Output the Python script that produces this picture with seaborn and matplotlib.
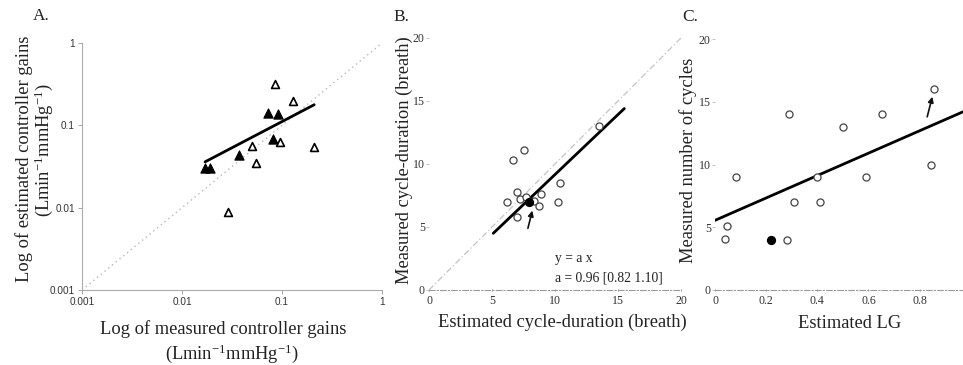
import numpy as np
import pandas as pd
import matplotlib
matplotlib.use("Agg")
import matplotlib.pyplot as plt
import seaborn as sns
from matplotlib.ticker import FixedLocator, FixedFormatter, NullLocator

# ---------------- data ----------------
# Panel A (log-log)
a_open_x = [0.085, 0.129, 0.050, 0.095, 0.21, 0.055, 0.029]
a_open_y = [0.32, 0.20, 0.056, 0.063, 0.054, 0.035, 0.0089]
a_fill_x = [0.073, 0.091, 0.081, 0.037, 0.017, 0.019]
a_fill_y = [0.14, 0.138, 0.068, 0.044, 0.030, 0.030]
a_fit_x = [0.017, 0.21]
a_fit_y = [0.036, 0.178]
a_identity = [0.001, 1.0]
a_ticks = [0.001, 0.01, 0.1, 1]
a_tick_labels = ["0.001", "0.01", "0.1", "1"]

# Panel B
b_open_x = [13.5, 7.5, 6.7, 10.4, 7.0, 6.2, 7.2, 7.7, 8.9, 8.3, 8.7, 10.2, 7.0]
b_open_y = [13.0, 11.1, 10.3, 8.5, 7.8, 7.0, 7.2, 7.4, 7.6, 7.1, 6.7, 7.0, 5.8]
b_fill_x = [7.9]
b_fill_y = [7.0]
b_fit_x = [5.1, 15.5]
b_fit_y = [4.5, 14.4]
b_identity = [0, 20]
b_arrow = [(7.85, 4.9), (8.2, 6.3)]
b_ticks = [0, 5, 10, 15, 20]
b_tick_labels = ["0", "5", "10", "15", "20"]

# Panel C
c_open_x = [0.855, 0.29, 0.655, 0.50, 0.845, 0.082, 0.40, 0.59, 0.31, 0.41, 0.047, 0.04, 0.28]
c_open_y = [16, 14, 14, 13, 10, 9, 9, 9, 7, 7, 5.1, 4.05, 4.0]
c_fill_x = [0.22]
c_fill_y = [4.0]
c_fit_x = [0.0, 0.97]
c_fit_y = [5.55, 14.2]
c_arrow = [(0.83, 13.8), (0.85, 15.4)]
c_xticks = [0, 0.2, 0.4, 0.6, 0.8, 1.0]
c_xtick_labels = ["0", "0.2", "0.4", "0.6", "0.8", "1"]
c_yticks = [0, 5, 10, 15, 20]
c_ytick_labels = ["0", "5", "10", "15", "20"]

# ---------------- style ----------------
sns.set_style("white")
plt.rcParams["font.family"] = ["Liberation Serif", "DejaVu Serif"]
plt.rcParams["mathtext.fontset"] = "custom"
plt.rcParams["mathtext.rm"] = "Liberation Serif"
plt.rcParams["mathtext.it"] = "Liberation Serif:italic"

W, H = 963, 365
fig = plt.figure(figsize=(W / 100, H / 100), dpi=100)


def axes_px(left, top, right, bottom):
    return fig.add_axes([left / W, 1 - bottom / H, (right - left) / W, (bottom - top) / H])


def ftext(x, y, s, **kw):
    fig.text(x / W, 1 - y / H, s, **kw)


LABEL_FS = 13.3
SERIF = ["Liberation Serif", "DejaVu Serif"]
SANS = ["Liberation Sans", "DejaVu Sans"]
UNIT = r"(Lmin$^{\mathregular{-1}}$mmHg$^{\mathregular{-1}}$)"

# ---------------- Panel A ----------------
axA = axes_px(82, 43, 382, 290)
axA.set_xscale("log")
axA.set_yscale("log")
sns.lineplot(x=a_identity, y=a_identity, ax=axA, color="#b8b8b8", lw=1.0,
             linestyle=(0, (1, 2.5)), legend=False)
sns.lineplot(x=a_fit_x, y=a_fit_y, ax=axA, color="black", lw=2.0, legend=False)
sns.scatterplot(x=a_open_x, y=a_open_y, ax=axA, marker="^", s=32, color="white",
                edgecolor="black", linewidth=1.2, zorder=3)
sns.scatterplot(x=a_fill_x, y=a_fill_y, ax=axA, marker="^", s=44, color="black",
                edgecolor="black", linewidth=0.8, zorder=3)
axA.set_xlim(0.001, 1)
axA.set_ylim(0.001, 1)
for axis in (axA.xaxis, axA.yaxis):
    axis.set_major_locator(FixedLocator(a_ticks))
    axis.set_major_formatter(FixedFormatter(a_tick_labels))
    axis.set_minor_locator(NullLocator())
axA.tick_params(axis="both", length=3, width=0.6, color="#999999", labelsize=7.2,
                labelcolor="#333333", pad=2, direction="out", bottom=True, left=True)
for lab in axA.get_xticklabels() + axA.get_yticklabels():
    lab.set_family(SANS)
for side in ("top", "right"):
    axA.spines[side].set_visible(False)
for side in ("left", "bottom"):
    axA.spines[side].set_color("#aaaaaa")
    axA.spines[side].set_linewidth(0.8)
axA.set_xlabel("")
axA.set_ylabel("")

ftext(223, 329, "Log of measured controller gains", ha="center", va="center",
      fontsize=LABEL_FS, family=SERIF, color="#222222")
ftext(232, 354, UNIT, ha="center", va="center",
      fontsize=LABEL_FS, family=SERIF, color="#222222")
ftext(24, 159, "Log of estimated controller gains", ha="center", va="center",
      rotation=90, fontsize=LABEL_FS, family=SERIF, color="#222222")
ftext(44, 150, UNIT, ha="center", va="center",
      rotation=90, fontsize=LABEL_FS, family=SERIF, color="#222222")
ftext(33, 16, "A.", ha="left", va="center", fontsize=12.5, family=SERIF, color="#222222")

# ---------------- Panel B ----------------
axB = axes_px(429, 38, 681, 290)
sns.lineplot(x=b_identity, y=b_identity, ax=axB, color="#c4c4c4", lw=0.9,
             linestyle=(0, (5, 2, 1, 2)), legend=False)
sns.lineplot(x=b_fit_x, y=b_fit_y, ax=axB, color="black", lw=2.0, legend=False)
sns.scatterplot(x=b_open_x, y=b_open_y, ax=axB, marker="o", s=26, color="white",
                edgecolor="#444444", linewidth=0.9, zorder=3)
sns.scatterplot(x=b_fill_x, y=b_fill_y, ax=axB, marker="o", s=34, color="black",
                edgecolor="black", linewidth=0.8, zorder=4)
axB.annotate("", xy=b_arrow[1], xytext=b_arrow[0],
             arrowprops=dict(arrowstyle="-|>", color="#111111", lw=1.2, mutation_scale=8,
                             shrinkA=0, shrinkB=0))
axB.text(10.0, 2.5, "y = a x", ha="left", va="center", fontsize=9.8, color="#222222")
axB.text(10.0, 0.95, "a = 0.96 [0.82 1.10]", ha="left", va="center", fontsize=9.8,
         color="#222222")
axB.set_xlim(0, 20)
axB.set_ylim(0, 20)
axB.xaxis.set_major_locator(FixedLocator(b_ticks))
axB.xaxis.set_major_formatter(FixedFormatter(b_tick_labels))
axB.yaxis.set_major_locator(FixedLocator(b_ticks))
axB.yaxis.set_major_formatter(FixedFormatter(b_tick_labels))

# ---------------- Panel C ----------------
axC = axes_px(715, 39, 963, 290)
sns.lineplot(x=c_fit_x, y=c_fit_y, ax=axC, color="black", lw=2.0, legend=False)
sns.scatterplot(x=c_open_x, y=c_open_y, ax=axC, marker="o", s=26, color="white",
                edgecolor="#444444", linewidth=0.9, zorder=3)
sns.scatterplot(x=c_fill_x, y=c_fill_y, ax=axC, marker="o", s=34, color="black",
                edgecolor="black", linewidth=0.8, zorder=4)
axC.annotate("", xy=c_arrow[1], xytext=c_arrow[0],
             arrowprops=dict(arrowstyle="-|>", color="#111111", lw=1.2, mutation_scale=8,
                             shrinkA=0, shrinkB=0))
axC.set_xlim(0, 0.97)
axC.set_ylim(0, 20)
axC.xaxis.set_major_locator(FixedLocator(c_xticks))
axC.xaxis.set_major_formatter(FixedFormatter(c_xtick_labels))
axC.yaxis.set_major_locator(FixedLocator(c_yticks))
axC.yaxis.set_major_formatter(FixedFormatter(c_ytick_labels))

for ax in (axB, axC):
    ax.set_xlabel("")
    ax.set_ylabel("")
    for side in ("top", "right", "left"):
        ax.spines[side].set_visible(False)
    ax.spines["bottom"].set_color("#9a9a9a")
    ax.spines["bottom"].set_linewidth(0.8)
    ax.spines["bottom"].set_linestyle((0, (5, 2, 1, 2)))
    ax.tick_params(axis="x", length=2, width=0.6, color="#888888", labelsize=8.6,
                   labelcolor="#333333", pad=2.5, direction="inout", bottom=True)
    ax.tick_params(axis="y", length=2, width=0.5, color="#aaaaaa", labelsize=8.6,
                   labelcolor="#333333", pad=1, direction="out", left=True)
    for lab in ax.get_xticklabels() + ax.get_yticklabels():
        lab.set_family(SERIF)

ftext(562, 322, "Estimated cycle-duration (breath)", ha="center", va="center",
      fontsize=LABEL_FS, family=SERIF, color="#222222")
ftext(404, 160, "Measured cycle-duration (breath)", ha="center", va="center",
      rotation=90, fontsize=LABEL_FS, family=SERIF, color="#222222")
ftext(393, 17, "B.", ha="left", va="center", fontsize=12.5, family=SERIF, color="#222222")

ftext(850, 323, "Estimated LG", ha="center", va="center",
      fontsize=LABEL_FS, family=SERIF, color="#222222")
ftext(688, 160, "Measured number of cycles", ha="center", va="center",
      rotation=90, fontsize=LABEL_FS, family=SERIF, color="#222222")
ftext(682, 17, "C.", ha="left", va="center", fontsize=12.5, family=SERIF, color="#222222")

fig.savefig("out.png", dpi=100, facecolor="white")
